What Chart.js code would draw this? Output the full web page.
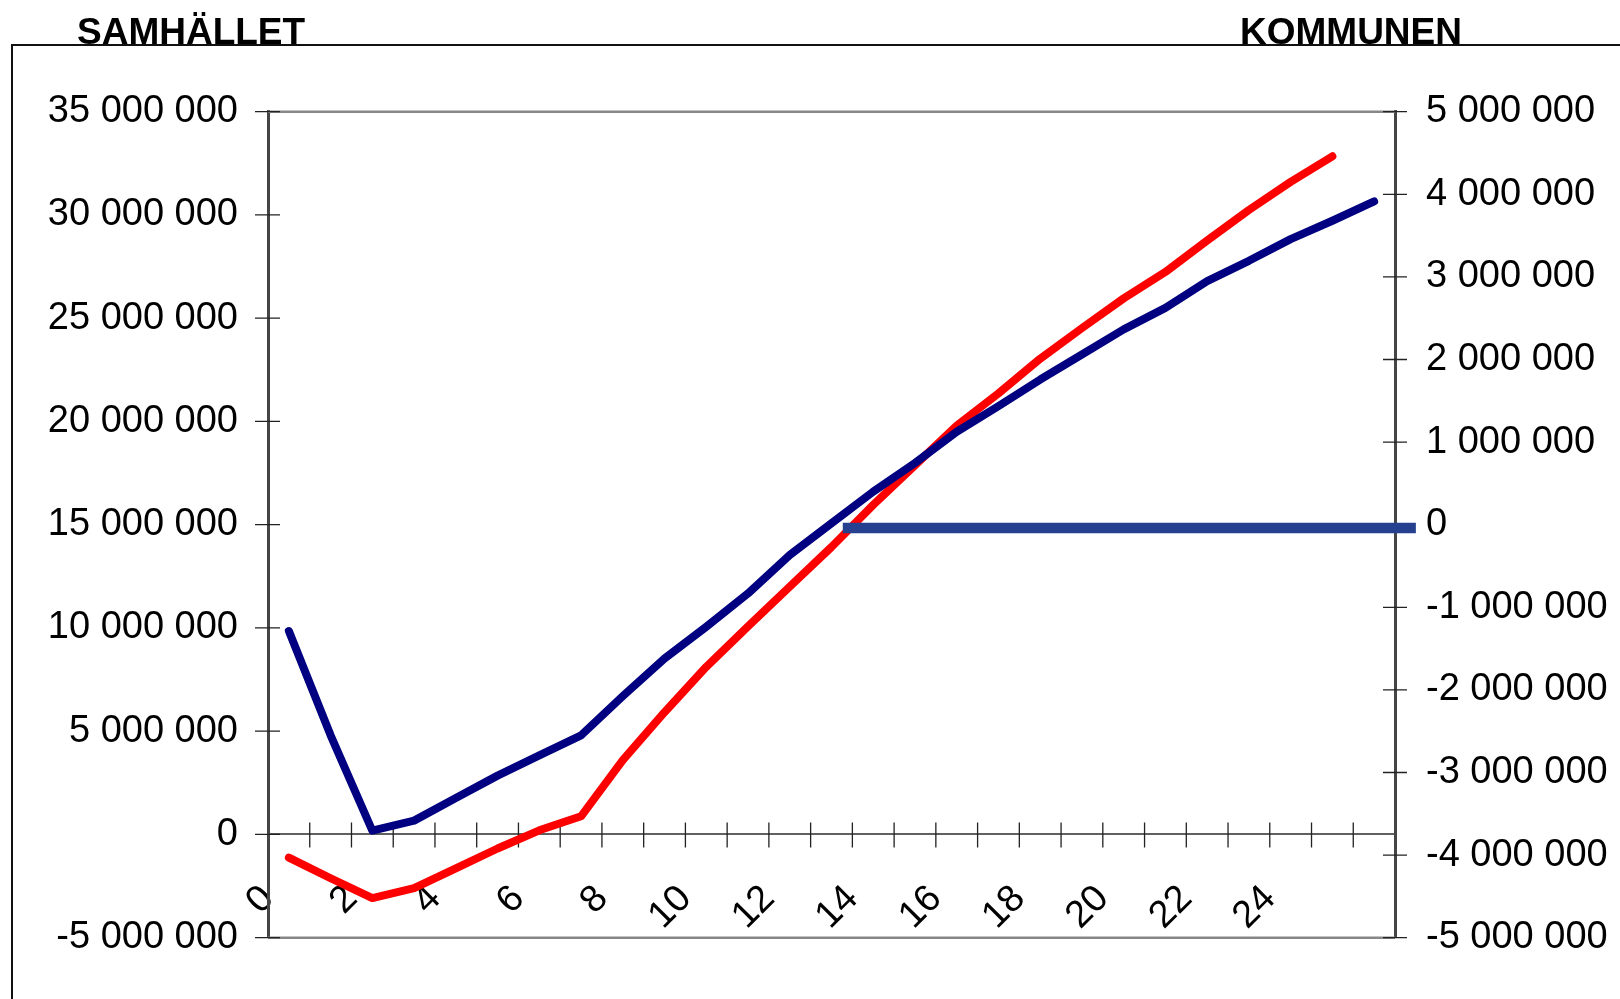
<!DOCTYPE html>
<html><head><meta charset="utf-8">
<script src="https://cdn.jsdelivr.net/npm/chart.js@4.4.0/dist/chart.umd.min.js"></script>
<style>
html,body{margin:0;padding:0;background:#fff;width:1620px;height:999px;overflow:hidden;}
#frame{position:absolute;left:11px;top:44px;width:1700px;height:1100px;border-left:2px solid #111;border-top:2px solid #111;}
#wrap{position:absolute;left:0;top:0;width:1620px;height:999px;}
.ttl{position:absolute;font:bold 37px 'Liberation Sans',Arial,sans-serif;line-height:37px;color:#000;white-space:nowrap;}
</style></head><body>
<div id="frame"></div>
<div id="wrap"><canvas id="c"></canvas></div>
<div class="ttl" style="left:77px;top:13px">SAMHÄLLET</div>
<div class="ttl" style="left:1240px;top:13px">KOMMUNEN</div>
<script>
// ---- data ----
const periods = [0,1,2,3,4,5,6,7,8,9,10,11,12,13,14,15,16,17,18,19,20,21,22,23,24,25,26];
const samhallet = [9850000, 4800000, 180000, 670000, 1770000, 2850000, 3830000, 4800000, 6700000, 8520000,
  10060000, 11670000, 13530000, 15070000, 16600000, 17990000, 19500000, 20740000, 22030000, 23240000,
  24460000, 25500000, 26800000, 27780000, 28830000, 29720000, 30660000];
const kommunen = [-4030000, -4280000, -4520000, -4400000, -4160000, -3920000, -3700000, -3530000, -2850000, -2270000,
  -1720000, -1230000, -750000, -270000, 240000, 720000, 1200000, 1590000, 2010000, 2380000,
  2740000, 3060000, 3440000, 3810000, 4150000, 4460000];
const breakEvenX = [13.27, 27.0];
const breakEvenY = [-40000, -40000];
const xTickLabels = ['0','2','4','6','8','10','12','14','16','18','20','22','24'];
const leftTickValues = [-5000000, 0, 5000000, 10000000, 15000000, 20000000, 25000000, 30000000, 35000000];
const rightTickValues = [-5000000, -4000000, -3000000, -2000000, -1000000, 0, 1000000, 2000000, 3000000, 4000000, 5000000];

function fmt(v){
  const s = Math.abs(Math.round(v)).toString().replace(/\B(?=(\d{3})+(?!\d))/g, ' ');
  return (v < 0 ? '-' : '') + s;
}
const FONT = {family: "'Liberation Sans', Arial, sans-serif", size: 38};

const axisDecor = {
  id: 'axisDecor',
  beforeDatasetsDraw(chart){
    const {ctx, chartArea: a, scales} = chart;
    ctx.save();
    ctx.strokeStyle = '#878787'; ctx.lineWidth = 2.5;
    ctx.beginPath();
    ctx.moveTo(a.left, a.top); ctx.lineTo(a.right, a.top);
    ctx.moveTo(a.left, a.bottom); ctx.lineTo(a.right, a.bottom);
    ctx.stroke();
    ctx.strokeStyle = '#222'; ctx.lineWidth = 1.3;
    ctx.beginPath();
    scales.y.ticks.forEach(t => { const py = scales.y.getPixelForValue(t.value); ctx.moveTo(a.left - 13, py); ctx.lineTo(a.left + 12, py); });
    scales.y1.ticks.forEach(t => { const py = scales.y1.getPixelForValue(t.value); ctx.moveTo(a.right - 12, py); ctx.lineTo(a.right + 12, py); });
    const y0 = scales.y.getPixelForValue(0);
    scales.x.ticks.forEach(t => {
      if (t.value <= scales.x.min || t.value >= scales.x.max) return;
      const px = scales.x.getPixelForValue(t.value);
      ctx.moveTo(px, y0 - 12); ctx.lineTo(px, y0 + 13);
    });
    ctx.stroke();
    ctx.restore();
  }
};

new Chart(document.getElementById('c'), {
  type: 'line',
  data: {
    datasets: [
      {
        label: 'Break-even',
        data: breakEvenX.map((x, i) => ({x: x + 0.5, y: breakEvenY[i]})),
        yAxisID: 'y1', borderColor: '#25408f', borderWidth: 10.5, borderCapStyle: 'butt',
        pointRadius: 0, clip: false, order: 0
      },
      {
        label: 'Samhället',
        data: samhallet.map((v, i) => ({x: periods[i] + 0.5, y: v})),
        yAxisID: 'y', borderColor: '#000080', borderWidth: 8, borderCapStyle: 'round', borderJoinStyle: 'round',
        pointRadius: 0, tension: 0, order: 1
      },
      {
        label: 'Kommunen',
        data: kommunen.map((v, i) => ({x: periods[i] + 0.5, y: v})),
        yAxisID: 'y1', borderColor: '#ff0000', borderWidth: 8, borderCapStyle: 'round', borderJoinStyle: 'round',
        pointRadius: 0, tension: 0, order: 2
      }
    ]
  },
  options: {
    responsive: true, maintainAspectRatio: false, animation: false, devicePixelRatio: 1,
    layout: {padding: {left: 0, right: 0, top: 111.7, bottom: 61.3}},
    plugins: {legend: {display: false}, tooltip: {enabled: false}},
    scales: {
      x: {
        type: 'linear', position: {y: 0}, min: 0, max: periods.length,
        grid: {display: true, drawOnChartArea: false, drawTicks: false},
        border: {display: true, color: '#606060', width: 2},
        afterBuildTicks: (s) => { s.ticks = periods.concat([periods.length]).map(v => ({value: v})); },
        ticks: {
          autoSkip: false, minRotation: 45, maxRotation: 45, padding: 42, color: '#000', font: FONT,
          callback: (v) => xTickLabels.includes(String(v)) ? String(v) : ''
        }
      },
      y: {
        type: 'linear', position: 'left',
        min: leftTickValues[0], max: leftTickValues[leftTickValues.length - 1],
        afterBuildTicks: (s) => { s.ticks = leftTickValues.map(v => ({value: v})); },
        afterFit: (s) => { s.width = 268; },
        grid: {display: true, drawOnChartArea: false, drawTicks: false},
        border: {display: true, color: '#454545', width: 3},
        ticks: {padding: 30, color: '#000', font: FONT, callback: (v) => fmt(v)}
      },
      y1: {
        type: 'linear', position: 'right',
        min: rightTickValues[0], max: rightTickValues[rightTickValues.length - 1],
        afterBuildTicks: (s) => { s.ticks = rightTickValues.map(v => ({value: v})); },
        afterFit: (s) => { s.width = 225; },
        grid: {display: true, drawOnChartArea: false, drawTicks: false},
        border: {display: true, color: '#454545', width: 3},
        ticks: {padding: 31, color: '#000', font: FONT, callback: (v) => fmt(v)}
      }
    }
  },
  plugins: [axisDecor]
});
</script>
</body></html>
